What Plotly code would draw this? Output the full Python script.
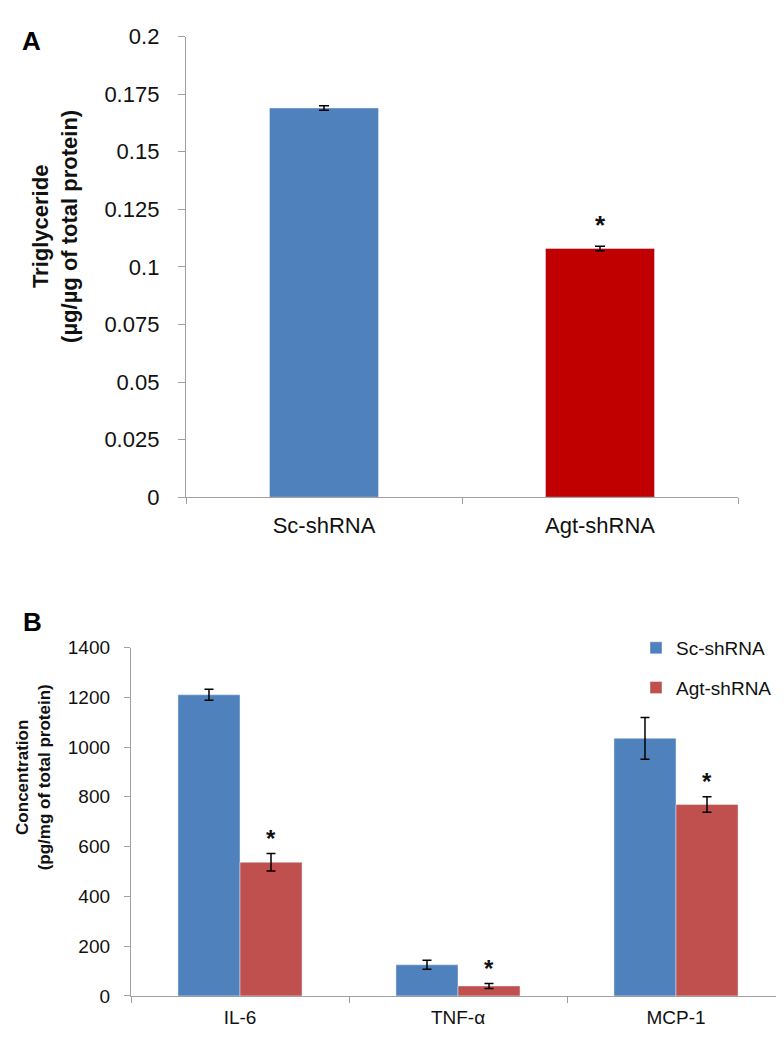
import plotly.graph_objects as go

# Panel A data
a_groups = ["Sc-shRNA", "Agt-shRNA"]
a_values = [0.169, 0.108]
a_errors = [0.001, 0.001]
a_colors = ["#4F81BD", "#C00000"]
a_ticks = [0, 0.025, 0.05, 0.075, 0.1, 0.125, 0.15, 0.175, 0.2]
a_ticklabels = ["0", "0.025", "0.05", "0.075", "0.1", "0.125", "0.15", "0.175", "0.2"]

# Panel B data
b_categories = ["IL-6", "TNF-α", "MCP-1"]
b_sc = [1210, 125, 1035]
b_sc_err = [22, 18, 84]
b_agt = [537, 40, 769]
b_agt_err = [35, 10, 31]
b_ticks = [0, 200, 400, 600, 800, 1000, 1200, 1400]

FONT = "Liberation Sans, Arial, sans-serif"
W, H = 784, 1038

fig = go.Figure()

fig.add_trace(go.Bar(
    x=a_groups, y=a_values, marker_color=a_colors, showlegend=False,
    error_y=dict(type="data", array=a_errors, color="black", thickness=1.5, width=5),
    xaxis="x", yaxis="y", width=0.395,
))

fig.add_trace(go.Bar(
    x=b_categories, y=b_sc, name="Sc-shRNA", marker_color="#4F81BD",
    error_y=dict(type="data", array=b_sc_err, color="black", thickness=1.5, width=4.5),
    xaxis="x2", yaxis="y2", legendgroup="sc",
))
fig.add_trace(go.Bar(
    x=b_categories, y=b_agt, name="Agt-shRNA", marker_color="#C0504D",
    error_y=dict(type="data", array=b_agt_err, color="black", thickness=1.5, width=4.5),
    xaxis="x2", yaxis="y2", legendgroup="agt",
))

axis_common = dict(showline=True, linecolor="#a0a0a0", linewidth=1.3, ticks="outside",
                   tickcolor="#a0a0a0", showgrid=False, zeroline=False)

fig.update_layout(
    width=W, height=H, margin=dict(l=0, r=0, t=0, b=0),
    paper_bgcolor="white", plot_bgcolor="white",
    font=dict(family=FONT, color="#111"),
    barmode="group", bargap=0.431, bargroupgap=0,
    xaxis=dict(domain=[178 / W, 730 / W], anchor="y", type="category",
               tickson="boundaries", ticklen=6, ticklabelstandoff=8,
               tickfont=dict(family=FONT, size=22, color="#111"), **axis_common),
    yaxis=dict(domain=[1 - 489 / H, 1 - 17 / H], anchor="x", range=[0, 0.2],
               tickvals=a_ticks, ticktext=a_ticklabels, ticklen=7, ticklabelstandoff=14,
               tickfont=dict(family=FONT, size=22, color="#111"), **axis_common),
    xaxis2=dict(domain=[123 / W, 777 / W], anchor="y2", type="category",
                tickson="boundaries", ticklen=6, ticklabelstandoff=4,
                tickfont=dict(family=FONT, size=19, color="#111"), **axis_common),
    yaxis2=dict(domain=[1 - 1000 / H, 1 - 643 / H], anchor="x2", range=[0, 1400],
                tickvals=b_ticks, ticklen=6, ticklabelstandoff=10,
                tickfont=dict(family=FONT, size=19, color="#111"), **axis_common),
    legend=dict(x=628 / W, y=1 - 624 / H, xanchor="left", yanchor="top",
                font=dict(family=FONT, size=19, color="#111"), tracegroupgap=12,
                bgcolor="rgba(0,0,0,0)"),
)

# Asterisks
fig.add_annotation(x=1, y=a_values[1] + a_errors[1], xref="x", yref="y", text="<b>*</b>",
                   showarrow=False, yanchor="middle", yshift=21,
                   font=dict(family=FONT, size=26, color="#111"))
for i in range(len(b_categories)):
    fig.add_annotation(x=i + 0.142, y=b_agt[i] + b_agt_err[i], xref="x2", yref="y2",
                       text="<b>*</b>", showarrow=False, yanchor="middle", yshift=15,
                       font=dict(family=FONT, size=24, color="#111"))

# Panel labels
fig.add_annotation(x=12 / W, y=1 - 22 / H, xref="paper", yref="paper", text="<b>A</b>",
                   showarrow=False, xanchor="left", yanchor="middle",
                   font=dict(family=FONT, size=26, color="black"))
fig.add_annotation(x=13 / W, y=1 - 617 / H, xref="paper", yref="paper", text="<b>B</b>",
                   showarrow=False, xanchor="left", yanchor="middle",
                   font=dict(family=FONT, size=26, color="black"))

# Y titles
fig.add_annotation(x=47 / W, y=1 - 212 / H, xref="paper", yref="paper",
                   text="<b>Triglyceride<br>(µg/µg of total protein)</b>",
                   showarrow=False, textangle=-90, xanchor="center", yanchor="middle",
                   font=dict(family=FONT, size=22, color="#111"))
fig.add_annotation(x=25 / W, y=1 - 776 / H, xref="paper", yref="paper",
                   text="<b>Concentration<br>(pg/mg of total protein)</b>",
                   showarrow=False, textangle=-90, xanchor="center", yanchor="middle",
                   font=dict(family=FONT, size=17, color="#111"))

fig.write_html("out.html")
